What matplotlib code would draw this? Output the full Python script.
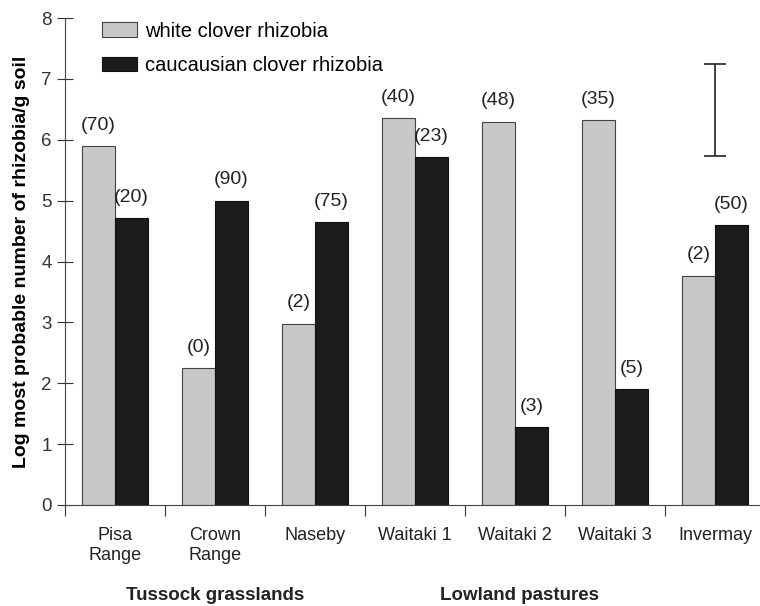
import numpy as np
import matplotlib
matplotlib.use("Agg")
import matplotlib.pyplot as plt
from matplotlib.transforms import blended_transform_factory

plt.rcParams.update({
    "font.family": "Liberation Sans",
    "font.size": 12,
})

# ── DATA ──────────────────────────────────────────────────────────────────────
sites = ["Pisa\nRange", "Crown\nRange", "Naseby", "Waitaki 1",
         "Waitaki 2", "Waitaki 3", "Invermay"]
white = [5.90, 2.25, 2.98, 6.35, 6.30, 6.33, 3.77]
cauc = [4.72, 5.00, 4.65, 5.72, 1.28, 1.90, 4.60]
white_n = ["(70)", "(0)", "(2)", "(40)", "(48)", "(35)", "(2)"]
cauc_n = ["(20)", "(90)", "(75)", "(23)", "(3)", "(5)", "(50)"]
lsd_centre = 6.49
lsd_half = 0.76
groups = ["Tussock grasslands", "Lowland pastures"]
group_pos = [1.0, 4.05]

# ── PLOT ──────────────────────────────────────────────────────────────────────
fig = plt.figure(figsize=(7.6, 6.06), dpi=100)
ax = fig.add_axes([0.0855, 0.1667, 0.9145, 0.8035])

x = np.arange(len(sites))
w = 0.33
b1 = ax.bar(x - w / 2, white, width=w, color="#c8c8c8", edgecolor="#444444",
            linewidth=0.8, label="white clover rhizobia")
b2 = ax.bar(x + w / 2, cauc, width=w, color="#1c1c1c", edgecolor="#111111",
            linewidth=0.8, label="caucausian clover rhizobia")

for rect, t in zip(b1, white_n):
    ax.text(rect.get_x() + rect.get_width() / 2, rect.get_height() + 0.2, t,
            ha="center", va="bottom", fontsize=14, color="#222222")
for rect, t in zip(b2, cauc_n):
    ax.text(rect.get_x() + rect.get_width() / 2, rect.get_height() + 0.2, t,
            ha="center", va="bottom", fontsize=14, color="#222222")

# least significant difference bar
ax.errorbar([x[-1]], [lsd_centre], yerr=[lsd_half], fmt="none", ecolor="#222222",
            elinewidth=1.2, capsize=8, capthick=1.2)

ax.set_xlim(-0.5, 6.45)
ax.set_ylim(0, 8)
ax.set_yticks(range(0, 9))
ax.tick_params(axis="y", direction="inout", length=12, width=0.8, colors="#333333",
               labelsize=13.5)
ax.set_xticks(np.arange(-0.5, 6.0, 1.0))
ax.set_xticklabels([])
ax.tick_params(axis="x", which="major", direction="out", length=8, width=0.8,
               colors="#333333")
ax.set_xticks(x, minor=True)
ax.set_xticklabels(sites, minor=True, fontsize=13, color="#222222")
ax.tick_params(axis="x", which="minor", length=0, pad=16)

for s in ["top", "right"]:
    ax.spines[s].set_visible(False)
for s in ["left", "bottom"]:
    ax.spines[s].set_color("#444444")
    ax.spines[s].set_linewidth(0.8)

ax.set_ylabel("Log most probable number of rhizobia/g soil", fontsize=14,
              fontweight="bold", labelpad=8)

tr = blended_transform_factory(ax.transData, fig.transFigure)
for g, p in zip(groups, group_pos):
    ax.text(p, 0.003, g, transform=tr, ha="center", va="bottom",
            fontsize=13.5, fontweight="bold", color="#222222")

ax.legend(loc="upper left", bbox_to_anchor=(0.027, 1.03), frameon=False,
          fontsize=14.5, handlelength=1.75, handleheight=0.7, labelspacing=0.75,
          handletextpad=0.4)

fig.savefig("out.png", dpi=100)
